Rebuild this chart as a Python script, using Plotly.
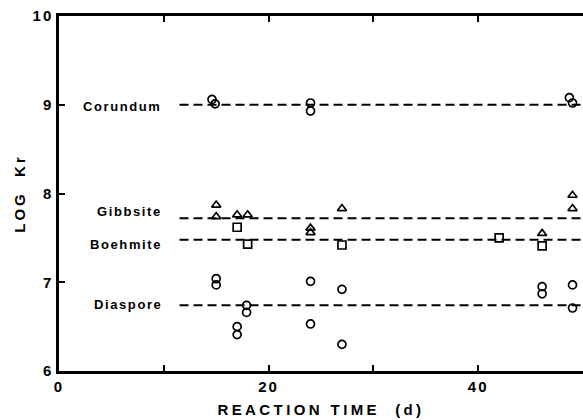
import plotly.graph_objects as go

# Data
corundum_x = [14.6, 14.9, 24.0, 24.0, 48.7, 49.0]
corundum_y = [9.06, 9.01, 9.02, 8.93, 9.08, 9.02]

gibbsite_x = [15.0, 15.0, 17.0, 18.0, 24.0, 24.0, 27.0, 46.1, 49.0, 49.0]
gibbsite_y = [7.87, 7.74, 7.76, 7.76, 7.61, 7.56, 7.83, 7.55, 7.98, 7.83]

boehmite_x = [17.0, 18.0, 27.0, 42.0, 46.1]
boehmite_y = [7.62, 7.43, 7.42, 7.50, 7.41]

diaspore_x = [15.0, 15.0, 17.9, 17.9, 17.0, 17.0, 24.0, 24.0, 27.0, 27.0, 46.1, 46.1, 49.0, 49.0]
diaspore_y = [7.04, 6.97, 6.74, 6.66, 6.50, 6.41, 7.01, 6.53, 6.92, 6.30, 6.95, 6.87, 6.97, 6.71]

mineral_names = ["Corundum", "Gibbsite", "Boehmite", "Diaspore"]
mineral_levels = [9.0, 7.72, 7.48, 6.74]
label_y = [8.98, 7.80, 7.42, 6.75]
line_x = [11.5, 50]

x_tickvals = [0, 10, 20, 30, 40, 50]
x_ticklabels = ["0", "", "20", "", "40", ""]
y_tickvals = [6, 7, 8, 9, 10]
y_ticklabels = ["6", "7", "8", "9", "10"]

FONT = "Liberation Sans, Arial, sans-serif"


def spaced(t, sp):
    if not t:
        return ""
    return '<b><span style="letter-spacing:%spx">%s</span></b>' % (sp, t)


fig = go.Figure()

for lvl in mineral_levels:
    fig.add_trace(go.Scatter(x=line_x, y=[lvl, lvl], mode="lines",
                             line=dict(color="black", width=2, dash="9px,5px"),
                             hoverinfo="skip", showlegend=False))

mk = dict(color="black", size=8, line=dict(color="black", width=1.7))
fig.add_trace(go.Scatter(x=corundum_x, y=corundum_y, mode="markers",
                         marker=dict(symbol="circle-open", **mk), showlegend=False))
fig.add_trace(go.Scatter(x=gibbsite_x, y=gibbsite_y, mode="markers",
                         marker=dict(symbol="triangle-up-open", **mk), showlegend=False))
fig.add_trace(go.Scatter(x=boehmite_x, y=boehmite_y, mode="markers",
                         marker=dict(symbol="square-open", **mk), showlegend=False))
fig.add_trace(go.Scatter(x=diaspore_x, y=diaspore_y, mode="markers",
                         marker=dict(symbol="circle-open", **mk), showlegend=False))

for name, ly in zip(mineral_names, label_y):
    fig.add_annotation(x=10.0, y=ly, xref="x", yref="y",
                       text=spaced(name, 1.6),
                       showarrow=False, xanchor="right", yanchor="middle",
                       font=dict(family=FONT, size=13, color="black"))

font_axis = dict(family=FONT, size=15, color="black")

fig.update_layout(
    width=583, height=420,
    margin=dict(l=59, r=0, t=16, b=49),
    paper_bgcolor="white", plot_bgcolor="white",
    showlegend=False,
    font=font_axis,
    xaxis=dict(range=[0, 50], tickvals=x_tickvals,
               ticktext=[spaced(t, 2) for t in x_ticklabels],
               ticks="inside", ticklen=6, tickwidth=1.5, tickcolor="black",
               showline=True, linecolor="black", linewidth=2.5, mirror="ticks",
               showgrid=False, zeroline=False, automargin=False,
               tickfont=font_axis,
               title=dict(text=spaced("REACTION TIME  (d)", 3.4),
                          font=font_axis, standoff=11)),
    yaxis=dict(range=[6, 10], tickvals=y_tickvals,
               ticktext=[spaced(t, 2) for t in y_ticklabels],
               ticks="inside", ticklen=6, tickwidth=1.5, tickcolor="black",
               showline=True, linecolor="black", linewidth=2.5,
               showgrid=False, zeroline=False, automargin=False,
               tickfont=font_axis,
               title=dict(text=spaced("LOG  Kr", 3),
                          font=font_axis, standoff=4)),
)

fig.write_html("out.html", config={"displayModeBar": False},
               post_script="document.body.style.margin='0';document.body.style.overflow='hidden';")
